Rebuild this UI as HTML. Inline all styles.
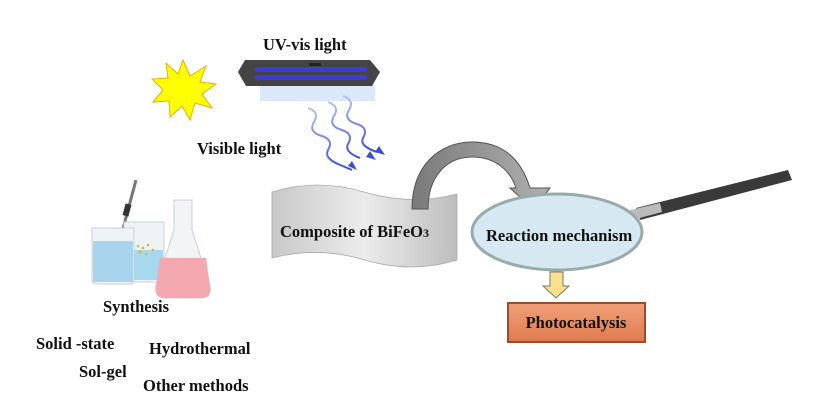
<!DOCTYPE html>
<html><head><meta charset="utf-8"><style>
body{margin:0;background:#fff}
svg{display:block}
text{font-family:"Liberation Serif",serif;font-weight:bold;fill:#111}
</style></head><body>
<svg width="825" height="420" viewBox="0 0 825 420" xmlns="http://www.w3.org/2000/svg">
<defs>
<linearGradient id="ban" x1="0" y1="0" x2="1" y2="0"><stop offset="0" stop-color="#c8c8c8"/><stop offset="0.5" stop-color="#ececec"/><stop offset="1" stop-color="#bdbdbd"/></linearGradient>
<linearGradient id="arc" x1="0" y1="0" x2="1" y2="0"><stop offset="0" stop-color="#7a7a7a"/><stop offset="1" stop-color="#b0b0b0"/></linearGradient>
<linearGradient id="box" x1="0" y1="0" x2="0" y2="1"><stop offset="0" stop-color="#f0a07a"/><stop offset="1" stop-color="#e07a4e"/></linearGradient>
<linearGradient id="wv" x1="0" y1="0" x2="0" y2="1"><stop offset="0" stop-color="#b8c4f0"/><stop offset="1" stop-color="#3a4fd0"/></linearGradient>
</defs>
<polygon points="183,60 190,76 206,66 200,82 216,84 202,94 212,108 195,103 190,120 182,106 170,117 169,101 153,102 163,90 152,79 168,78 166,63 178,74" fill="#ffff00" stroke="#e8b000" stroke-width="1"/>
<text x="197" y="154" font-size="16.5">Visible light</text>
<text x="263" y="50" font-size="16.5">UV-vis light</text>
<rect x="260" y="85" width="115" height="16" fill="#dbe8fa"/>
<polygon points="245,60 370,60 380,72 372,86 246,86 238,72" fill="#444"/>
<rect x="255" y="67" width="112" height="5" rx="2" fill="#3b3bd8"/>
<rect x="255" y="75" width="112" height="5" rx="2" fill="#3b3bd8"/>
<rect x="309" y="63" width="12" height="3" fill="#222"/>
<g fill="none" stroke="url(#wv)" stroke-width="2">
<path d="M308,108 q12,4 6,14 q-6,10 8,14 q12,4 6,14 q-4,8 10,14 l14,6"/>
<path d="M328,102 q12,4 6,14 q-6,10 8,14 q12,4 6,14 q-4,8 12,14"/>
<path d="M343,96 q12,4 6,14 q-6,10 8,14 q12,4 6,14 q-4,8 14,14"/>
</g>
<g fill="#3a4fd0"><polygon points="357,170 348,166 352,161"/><polygon points="376,160 366,157 370,151"/><polygon points="385,155 375,152 379,146"/></g>
<line x1="136" y1="180" x2="112" y2="270" stroke="#777" stroke-width="3"/>
<rect x="124" y="204" width="6" height="12" fill="#333" transform="rotate(15 127 210)"/>
<path d="M124,222 h40 v56 q0,4 -4,4 h-32 q-4,0 -4,-4z" fill="#eef4f6" stroke="#c8d2d6"/>
<rect x="125" y="250" width="38" height="30" fill="#a8d8ee"/>
<path d="M92,228 h42 v52 q0,4 -4,4 h-34 q-4,0 -4,-4z" fill="#eef4f6" stroke="#c8d2d6"/>
<rect x="93" y="241" width="40" height="41" fill="#a8d4ee"/>
<path d="M174,200 h18 v30 l18,56 q2,12 -10,12 h-34 q-12,0 -10,-12 l18,-56z" fill="#f2f4f6" stroke="#c8d0d4"/>
<path d="M160,258 h46 l4,28 q2,12 -10,12 h-34 q-12,0 -10,-12z" fill="#f4a8b0"/>
<g fill="#e0b030"><circle cx="138" cy="246" r="1.3"/><circle cx="143" cy="248" r="1.3"/><circle cx="148" cy="245" r="1.3"/><circle cx="153" cy="250" r="1.3"/><circle cx="140" cy="252" r="1.3"/><circle cx="146" cy="254" r="1.3"/></g>
<text x="103" y="312" font-size="16.5">Synthesis</text>
<text x="36" y="349" font-size="16.5">Solid -state</text>
<text x="149" y="354" font-size="16.5">Hydrothermal</text>
<text x="79" y="377" font-size="16.5">Sol-gel</text>
<text x="143" y="391" font-size="16.5">Other methods</text>
<path d="M272,192 q45,-14 92,0 t93,2 v66 q-45,14 -92,0 t-93,-2z" fill="url(#ban)" stroke="#aaa" stroke-width="0.8"/>
<text x="280" y="237" font-size="16.5">Composite of BiFeO<tspan font-size="12">3</tspan></text>
<path d="M412,209 C412,165 440,142 472,142 C505,142 522,162 530,188 L550,188 L533,209 L510,188 L516,188 C510,170 495,157 472,157 C448,157 428,175 428,209z" fill="url(#arc)" stroke="#555" stroke-width="1"/>
<polygon points="636,208 788,170 792,180 640,220" fill="#3a3a3a"/>
<polygon points="630,210 660,203 662,212 632,220" fill="#bbb"/>
<ellipse cx="557" cy="232" rx="85" ry="38" fill="#d6e9f2" stroke="#9aa" stroke-width="3"/>
<text x="486" y="241" font-size="16.5">Reaction mechanism</text>
<polygon points="550,272 563,272 563,286 569,286 556,298 543,286 550,286" fill="#ffe08a" stroke="#777"/>
<rect x="508" y="303" width="137" height="39" fill="url(#box)" stroke="#a04a28" stroke-width="2"/>
<text x="576" y="328" font-size="16.5" text-anchor="middle">Photocatalysis</text>
</svg>
</body></html>
